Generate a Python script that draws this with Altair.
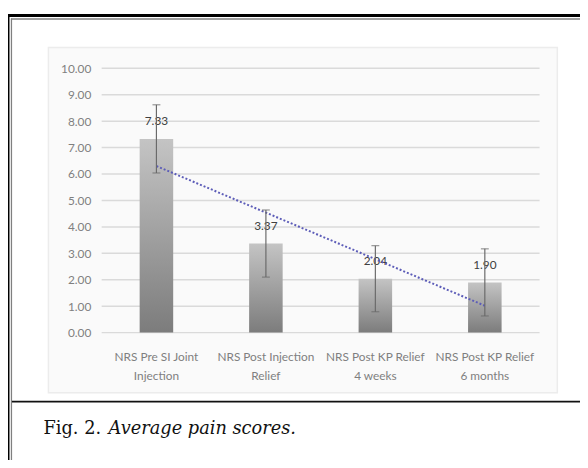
import altair as alt
import pandas as pd
import numpy as np

categories = [
    "NRS Pre SI Joint\nInjection",
    "NRS Post Injection\nRelief",
    "NRS Post KP Relief\n4 weeks",
    "NRS Post KP Relief\n6 months",
]
means = [7.33, 3.37, 2.04, 1.90]
errors = [1.29, 1.27, 1.25, 1.27]
y_ticks = [0, 1, 2, 3, 4, 5, 6, 7, 8, 9, 10]
caption_a = "Fig. 2."
caption_b = "Average pain scores."

# linear trendline fitted to the bar values
idx = np.arange(1, len(means) + 1)
slope, intercept = np.polyfit(idx, means, 1)
trend = slope * idx + intercept

df = pd.DataFrame({
    "cat": categories,
    "mean": means,
    "lo": [m - e for m, e in zip(means, errors)],
    "hi": [m + e for m, e in zip(means, errors)],
    "trend": trend,
    "label": [f"{m:.2f}" for m in means],
})
grid_df = pd.DataFrame({"v": y_ticks})
one = pd.DataFrame({"d": [0]})

W, H = 444, 268
FONT = "Lato"

xaxis = alt.Axis(
    title=None, labelAngle=0, domain=False, ticks=False, grid=False, zindex=1,
    labelExpr="split(datum.label, '\\n')", labelFont=FONT, labelFontSize=12,
    labelColor="#7f7f7f", labelPadding=19, labelLineHeight=20, labelLimit=200,
    labelOverlap=False,
)
yaxis = alt.Axis(
    title=None, values=y_ticks, format=".2f", domain=False, ticks=False,
    grid=False, zindex=1, labelFont=FONT, labelFontSize=12, labelColor="#7f7f7f",
    labelPadding=11, labelOverlap=False,
)
xscale = alt.Scale(paddingInner=0, paddingOuter=0)
yscale = alt.Scale(domain=[0, 10], nice=False, zero=True)


def X():
    return alt.X("cat:N", sort=categories, scale=xscale, axis=xaxis)


def Y(field):
    return alt.Y(field, scale=yscale, axis=yaxis)


panel = alt.Chart(one).mark_rect(fill="#fafafa", stroke="#ececec", strokeWidth=1.5).encode(
    x=alt.value(-54), x2=alt.value(462), y=alt.value(-21), y2=alt.value(329)
)

grid = alt.Chart(grid_df).mark_rule(color="#dadada", strokeWidth=1.5).encode(
    y=Y("v:Q"), x=alt.value(0), x2=alt.value(W)
)

gradient = alt.Gradient(
    gradient="linear",
    stops=[alt.GradientStop(color="#c4c4c4", offset=0),
           alt.GradientStop(color="#7c7c7c", offset=1)],
    x1=0, x2=0, y1=0, y2=1,
)
bars = alt.Chart(df).mark_bar(size=34, color=gradient).encode(x=X(), y=Y("mean:Q"))

labels = alt.Chart(df).mark_text(
    baseline="middle", dy=-18, font=FONT, fontSize=12, color="#404040"
).encode(x=X(), y=Y("mean:Q"), text="label:N")

trendline = alt.Chart(df).mark_line(
    color="#5c5cb8", strokeWidth=2, strokeDash=[2, 2]
).encode(x=X(), y=Y("trend:Q"))

err_rule = alt.Chart(df).mark_rule(color="#6a6a6a", strokeWidth=1.2).encode(
    x=X(), y=Y("lo:Q"), y2="hi:Q"
)
cap_hi = alt.Chart(df).mark_tick(color="#6a6a6a", orient="horizontal", size=8, thickness=1.2).encode(
    x=X(), y=Y("hi:Q")
)
cap_lo = alt.Chart(df).mark_tick(color="#6a6a6a", orient="horizontal", size=8, thickness=1.2).encode(
    x=X(), y=Y("lo:Q")
)

# frame decoration
frame = [
    alt.Chart(one).mark_rule(color="#000000", strokeWidth=3).encode(
        x=alt.value(-95), x2=alt.value(-95), y=alt.value(-55), y2=alt.value(402)),
    alt.Chart(one).mark_rule(color="#000000", strokeWidth=3).encode(
        x=alt.value(-96), x2=alt.value(490), y=alt.value(-53.5), y2=alt.value(-53.5)),
    alt.Chart(one).mark_rule(color="#808080", strokeWidth=1.3).encode(
        x=alt.value(-91.5), x2=alt.value(-91.5), y=alt.value(-50.5), y2=alt.value(402)),
    alt.Chart(one).mark_rule(color="#808080", strokeWidth=1.3).encode(
        x=alt.value(-92), x2=alt.value(490), y=alt.value(-50), y2=alt.value(-50)),
    alt.Chart(one).mark_rule(color="#111111", strokeWidth=1.6).encode(
        x=alt.value(-91), x2=alt.value(490), y=alt.value(338), y2=alt.value(338)),
]

cap1 = alt.Chart(one).mark_text(
    align="left", baseline="alphabetic", font="DejaVu Serif", fontSize=18, color="#111111"
).encode(x=alt.value(-59), y=alt.value(371), text=alt.value(caption_a))
cap2 = alt.Chart(one).mark_text(
    align="left", baseline="alphabetic", font="DejaVu Serif", fontSize=18,
    fontStyle="italic", color="#111111"
).encode(x=alt.value(7), y=alt.value(371), text=alt.value(caption_b))

chart = alt.layer(
    panel, grid, bars, labels, trendline, err_rule, cap_hi, cap_lo, *frame, cap1, cap2
).properties(
    width=W, height=H,
    autosize=alt.AutoSizeParams(type="none"),
    padding={"left": 95, "top": 58, "right": 41, "bottom": 126},
    background="#ffffff",
).configure_view(stroke=None)

chart.save("out.html", embed_options={"renderer": "svg", "actions": False})
